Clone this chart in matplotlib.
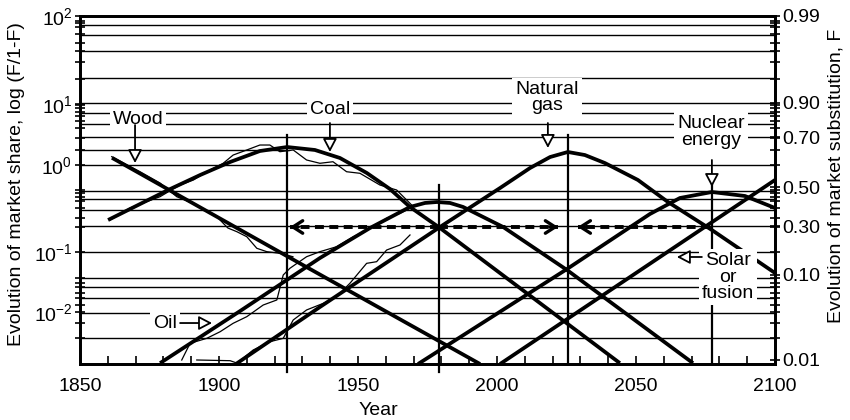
import numpy as np
import matplotlib.pyplot as plt

plt.rcParams['font.family'] = ['Liberation Sans', 'DejaVu Sans']
plt.rcParams['mathtext.fontset'] = 'custom'
plt.rcParams['mathtext.rm'] = 'Liberation Sans'
plt.rcParams['mathtext.it'] = 'Liberation Sans:italic'
plt.rcParams['mathtext.bf'] = 'Liberation Sans:bold'

# y values are log10(F/(1-F))

# fitted substitution curves (thick)
wood_years = [1861.5, 1925.0, 1993.9]
wood_fit = [0.37, -0.77, -2.0]
coal_years = [1860.1, 1881.7, 1893.2, 1904.0, 1914.7, 1924.5, 1934.5, 1943.5,
              1953.2, 1961.5, 1968.7, 1979.5, 2044.2]
coal_fit = [-0.345, 0.0, 0.172, 0.322, 0.448, 0.494, 0.46, 0.368,
            0.195, 0.011, -0.195, -0.437, -1.99]
oil_years = [1878.8, 1907.6, 1936.3, 1954.3, 1968.7, 1974.1, 1978.4, 1983.1,
             1987.8, 2002.2, 2025.2, 2070.5]
oil_fit = [-1.99, -1.391, -0.782, -0.437, -0.195, -0.149, -0.138, -0.149,
           -0.195, -0.425, -0.92, -1.99]
gas_years = [1906.1, 1936.3, 1979.5, 2001.1, 2011.9, 2019.1, 2025.5, 2031.6,
             2038.8, 2050.7, 2061.5, 2077.3, 2100.0]
gas_fit = [-2.0, -1.345, -0.425, 0.023, 0.253, 0.379, 0.437, 0.402,
           0.31, 0.115, -0.138, -0.46, -0.954]
nuclear_years = [1971.6, 2025.2, 2055.0, 2065.8, 2077.3, 2089.2, 2100.0]
nuclear_fit = [-2.0, -0.908, -0.276, -0.092, -0.023, -0.069, -0.207]
solar_years = [2001.1, 2100.0]
solar_fit = [-2.0, 0.115]

# historical data (thin)
wood_hist_years = [1861.4, 1871.6, 1878.8, 1884.8, 1892.0, 1899.2, 1903.2, 1906.4,
                   1910.0, 1913.6, 1917.2, 1921.9, 1926.6]
wood_hist = [0.383, 0.21, 0.08, -0.077, -0.172, -0.307, -0.437, -0.479,
             -0.537, -0.67, -0.709, -0.728, -0.767]
coal_hist_years = [1860.8, 1868.0, 1874.0, 1878.8, 1881.8, 1886.0, 1890.8, 1895.6,
                   1901.5, 1905.1, 1910.0, 1914.7, 1918.3, 1921.9, 1926.7, 1931.5,
                   1936.3, 1941.0, 1945.9, 1950.7, 1957.9, 1963.9, 1967.5, 1969.9]
coal_hist = [-0.345, -0.207, -0.134, -0.077, -0.02, 0.057, 0.115, 0.21,
             0.307, 0.402, 0.46, 0.517, 0.517, 0.44, 0.46, 0.345,
             0.307, 0.325, 0.21, 0.192, 0.057, 0.0, -0.115, -0.192]
oil_hist_years = [1886.6, 1889.6, 1895.6, 1900.4, 1905.1, 1910.0, 1915.9, 1920.8,
                  1923.1, 1925.5, 1931.5, 1936.3, 1942.3, 1948.3, 1955.5, 1960.3,
                  1965.1, 1968.7]
oil_hist = [-1.954, -1.762, -1.705, -1.629, -1.532, -1.456, -1.322, -1.264,
            -0.977, -0.9, -0.767, -0.709, -0.652, -0.537, -0.422, -0.325,
            -0.268, -0.21]
gas_hist_years = [1892.0, 1904.0, 1906.5, 1912.3, 1918.3, 1923.1, 1926.7, 1931.5,
                  1937.5, 1942.3, 1947.1, 1953.1, 1956.7, 1960.3, 1965.1, 1968.7]
gas_hist = [-1.954, -1.962, -1.99, -1.839, -1.744, -1.705, -1.494, -1.379,
            -1.303, -1.226, -1.072, -0.843, -0.824, -0.69, -0.632, -0.517]

# reference years (vertical lines) and the F = 0.3 arrows
marker_years = [1924.5, 1979.0, 2025.5, 2077.5]
marker_tops = [0.63, 0.06, 0.63, 0.06]
marker_bottoms = [-2.09, -2.09, -2.0, -2.0]
arrow_level = -0.425
arrow_spans = [(1979.0, 1925.5), (1979.0, 2022.0), (2076.6, 2029.0)]

# probability-paper grid and axis ticks
grid_levels = [1.897, 1.782, 1.598, 1.287, 1.0, 0.885, 0.759, 0.609, 0.287,
               -0.011, -0.103, -0.23, -0.414, -0.713, -1.011, -1.115, -1.241,
               -1.414, -1.701]
left_major = [2.0, 0.99, 0.287, -0.713, -1.402]
left_labels = ['$10^{2}$', '$10^{1}$', '$10^{0}$', '$10^{-1}$', '$10^{-2}$']
minor_levels = [1.943, 1.92, 1.874, 1.793, 1.69, 1.598, 1.471, 1.276, 0.977, 0.943,
                0.897, 0.851, 0.793, 0.713, 0.598, 0.46, 0.287, 0.0, -0.034, -0.08,
                -0.126, -0.207, -0.322, -0.425, -0.713, -1.011, -1.069, -1.115,
                -1.184, -1.241, -1.322, -1.402, -1.529, -1.701]
right_major = [2.0, 1.0, 0.609, 0.03, -0.414, -0.977, -1.954]
right_labels = ['0.99', '0.90', '0.70', '0.50', '0.30', '0.10', '0.01']

fig = plt.figure(figsize=(8.5, 4.2), dpi=100)
ax = fig.add_axes([80 / 850, 56 / 420, 695 / 850, 348 / 420])
ax.set_xlim(1850, 2100)
ax.set_ylim(-2.0, 2.0)

for g in grid_levels:
    ax.axhline(g, color='k', lw=1.0, zorder=1)
ax.plot([1850, 1925], [0.46, 0.46], color='k', lw=1.0, zorder=1)

for x, top, bot in zip(marker_years, marker_tops, marker_bottoms):
    ax.plot([x, x], [bot, top], color='k', lw=1.6, zorder=2, clip_on=False)

for xs, ys in [(wood_hist_years, wood_hist), (coal_hist_years, coal_hist),
               (oil_hist_years, oil_hist), (gas_hist_years, gas_hist)]:
    ax.plot(xs, ys, color='k', lw=0.9, zorder=3)

for xs, ys in [(wood_years, wood_fit), (coal_years, coal_fit), (oil_years, oil_fit),
               (gas_years, gas_fit), (nuclear_years, nuclear_fit),
               (solar_years, solar_fit)]:
    ax.plot(xs, ys, color='k', lw=2.7, zorder=4, solid_capstyle='butt')

for x0, x1 in arrow_spans:
    ax.plot([x0, x1], [arrow_level, arrow_level], color='k', lw=2.8,
            ls=(0, (2.3, 1.4)), zorder=5)
    back = 3.0 if x0 > x1 else -3.0
    ax.annotate('', xy=(x1, arrow_level), xytext=(x1 + back, arrow_level),
                arrowprops=dict(arrowstyle='->,head_length=0.7,head_width=0.45',
                                lw=2.4, color='k', shrinkA=0, shrinkB=0),
                zorder=5)

box = dict(boxstyle='square,pad=0.15', fc='white', ec='none')
labels = [('Wood', 1870.9, 0.805), ('Coal', 1939.9, 0.92),
          ('Natural\ngas', 2018.0, 1.063), ('Nuclear\nenergy', 2077.0, 0.667),
          ('Oil', 1880.6, -1.529), ('Solar\nor\nfusion', 2083.1, -1.0)]
for txt, x, y in labels:
    ax.text(x, y, txt, ha='center', va='center', fontsize=14, linespacing=0.95,
            bbox=box, zorder=7)

pointers = [((1869.8, 0.747), (1869.8, 0.31)), ((1939.9, 0.77), (1939.9, 0.437)),
            ((2018.3, 0.77), (2018.3, 0.483)), ((2077.3, 0.345), (2077.3, 0.034)),
            ((1886.0, -1.529), (1897.5, -1.529)), ((2073.7, -0.77), (2064.7, -0.77))]
for start, tip in pointers:
    ax.annotate('', xy=tip, xytext=start,
                arrowprops=dict(arrowstyle='-|>,head_length=0.8,head_width=0.42',
                                lw=1.3, fc='white', ec='k', shrinkA=0, shrinkB=0,
                                mutation_scale=10),
                zorder=8)

for side in ['left', 'right', 'top', 'bottom']:
    ax.spines[side].set_linewidth(2.0)

ax.set_xticks(np.arange(1850, 2101, 50))
ax.set_xticks(np.arange(1860, 2100, 10), minor=True)
ax.tick_params(axis='x', which='both', direction='in', length=6, width=1.2,
               labelsize=14, pad=10)
ax.set_yticks(left_major)
ax.set_yticklabels(left_labels)
ax.set_yticks(minor_levels, minor=True)
ax.tick_params(axis='y', which='both', direction='inout', length=7, width=1.2,
               labelsize=14, pad=2)
ax.set_xlabel('Year', fontsize=14)
ax.xaxis.set_label_coords(0.43, -0.108)
ax.set_ylabel('Evolution of market share, log (F/1-F)', fontsize=14)
ax.yaxis.set_label_coords(-0.079, 0.517)

ax2 = ax.twinx()
ax2.set_ylim(ax.get_ylim())
ax2.set_yticks(right_major)
ax2.set_yticklabels(right_labels)
ax2.set_yticks(minor_levels, minor=True)
ax2.tick_params(axis='y', which='both', direction='inout', length=7, width=1.2,
                labelsize=14, pad=2)
ax2.set_ylabel('Evolution of market substitution, F', fontsize=14)
ax2.yaxis.set_label_coords(1.075, 0.54)
for side in ['left', 'right', 'top', 'bottom']:
    ax2.spines[side].set_linewidth(2.0)

fig.savefig('out.png', dpi=100)
